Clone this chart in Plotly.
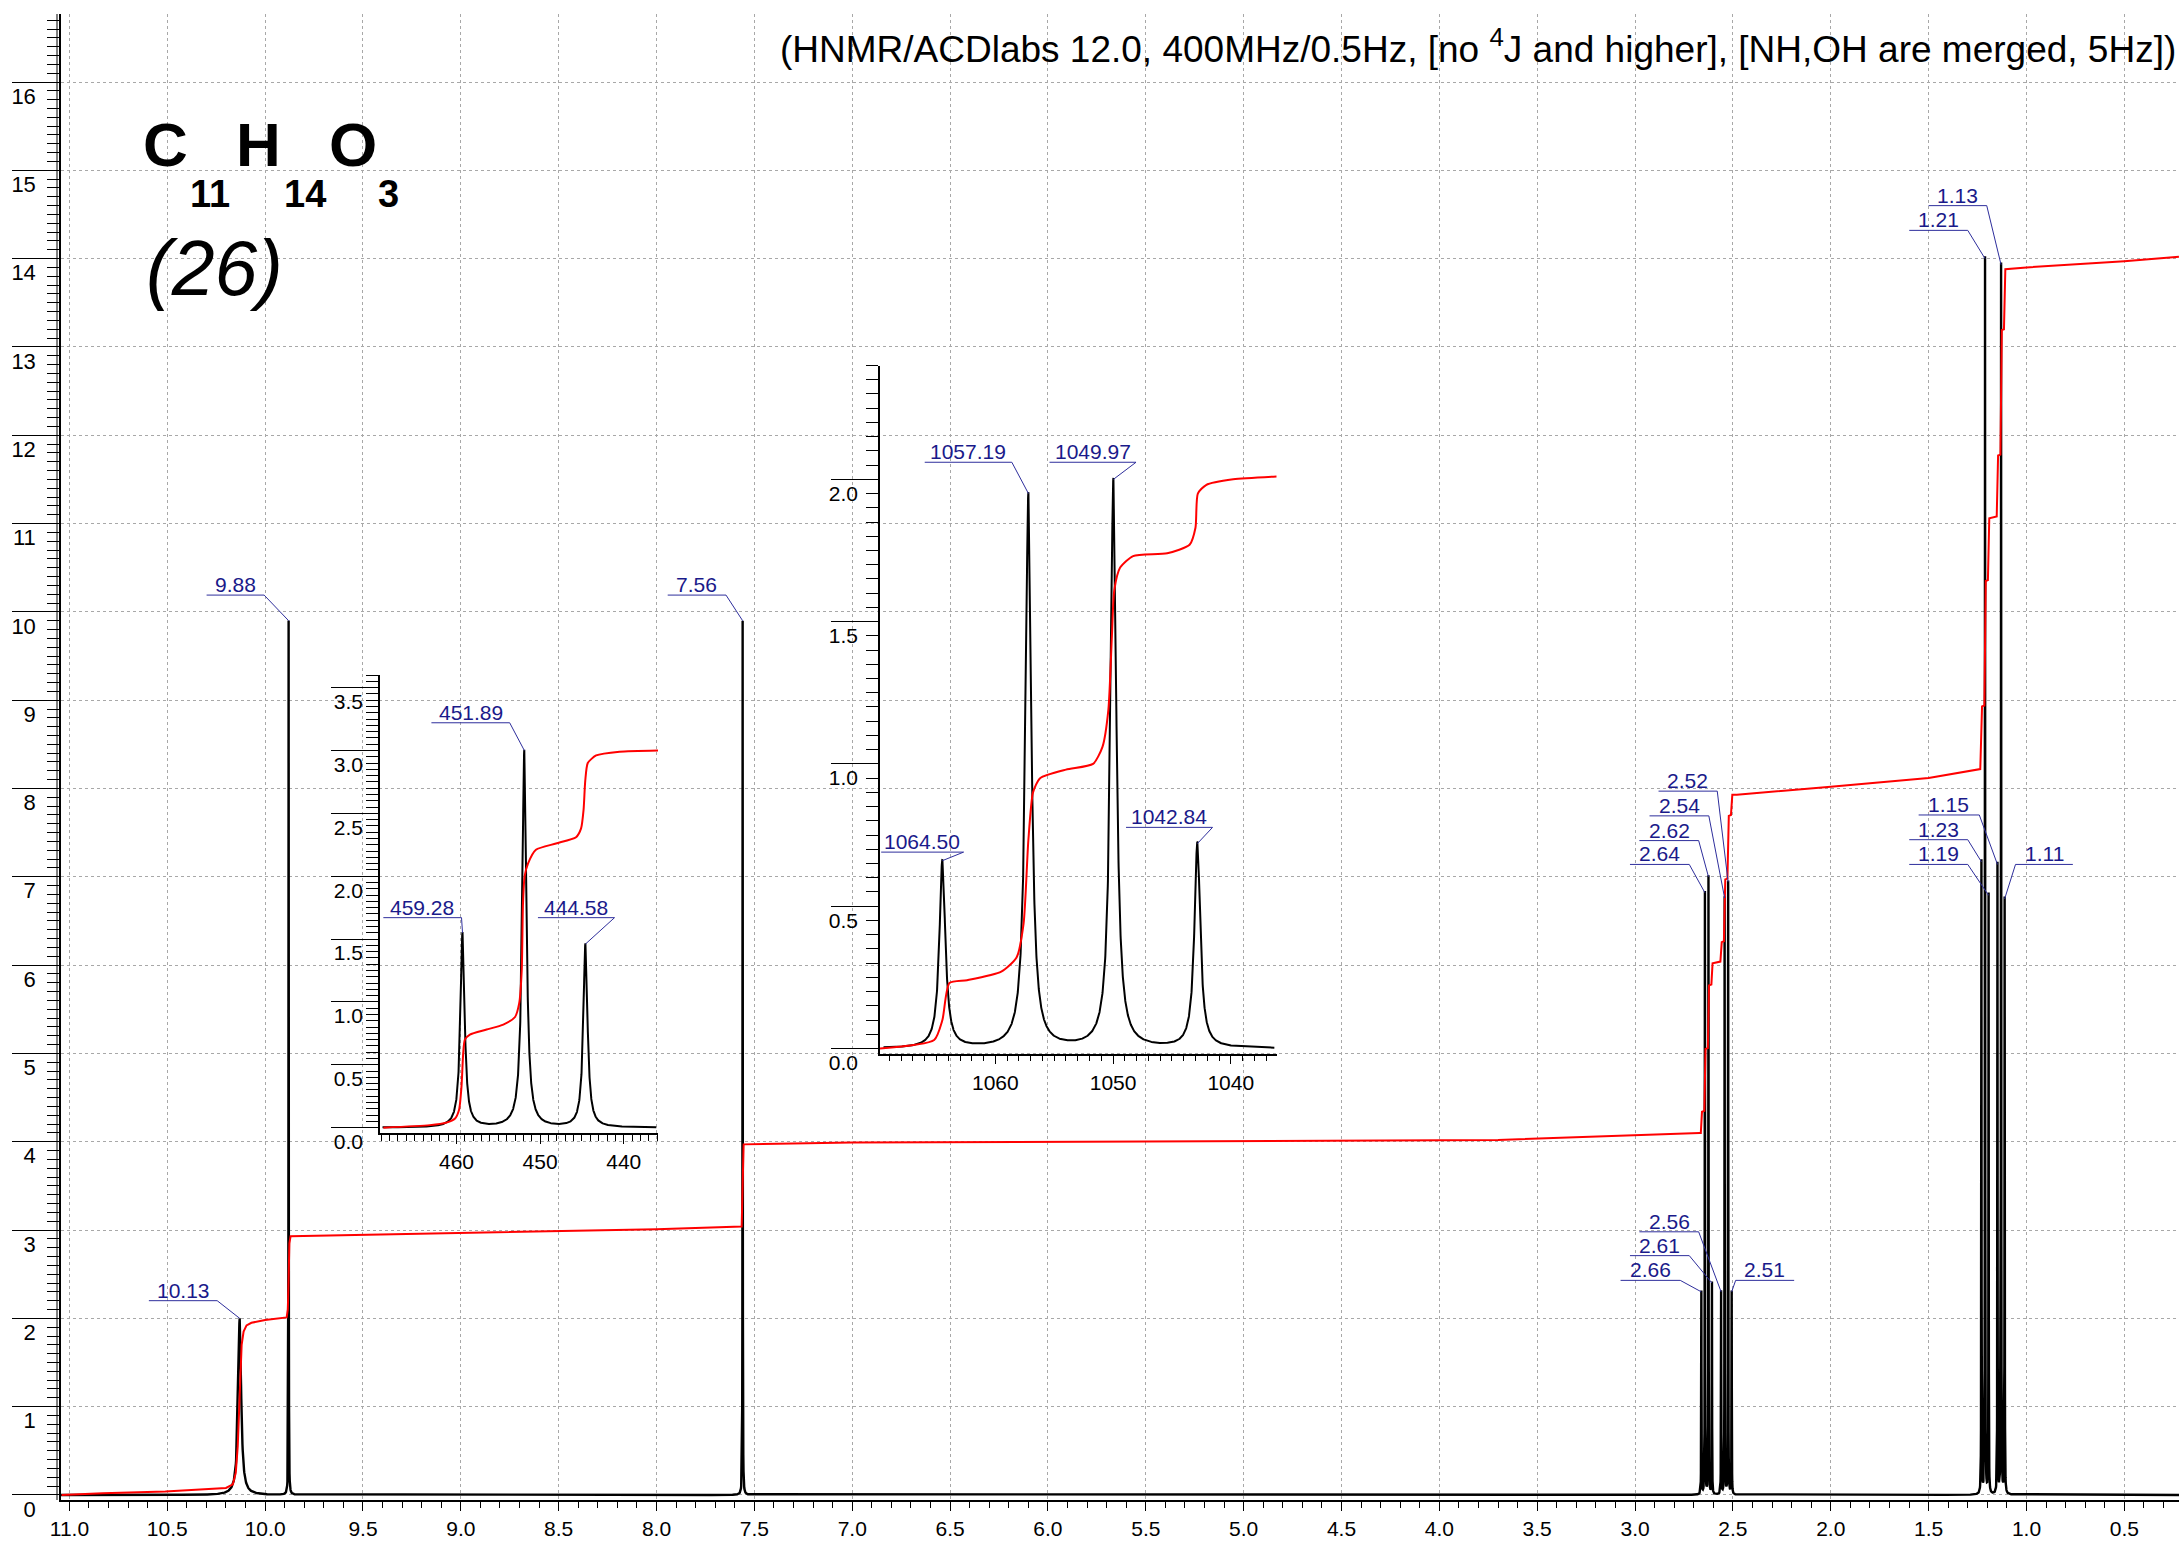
import numpy as np
import plotly.graph_objects as go

# ===================== DATA =====================
SPEC_MHZ = 400.0

# main spectrum: line positions (ppm), displayed heights, half-widths (Hz)
peak_ppm = [10.130, 9.880, 7.560,
            2.6613, 2.6430, 2.6249, 2.6071,
            2.5603, 2.5423, 2.5243, 2.5063,
            1.2302, 1.2117, 1.1935,
            1.1482, 1.1297, 1.1115]
peak_height = [2.00, 9.90, 9.90,
               2.30, 6.82, 7.00, 2.40,
               2.30, 6.76, 6.94, 2.30,
               7.17, 14.00, 6.79,
               7.14, 13.93, 6.75]
peak_hwhm_hz = [3.6, 0.3, 0.3,
                0.3, 0.3, 0.3, 0.3,
                0.3, 0.3, 0.3, 0.3,
                0.3, 0.3, 0.3,
                0.3, 0.3, 0.3]
peak_label = ["10.13", "9.88", "7.56",
              "2.66", "2.64", "2.62", "2.61",
              "2.56", "2.54", "2.52", "2.51",
              "1.23", "1.21", "1.19",
              "1.15", "1.13", "1.11"]

# main integral curve (ppm, value)
integral_ppm = [11.040, 10.830, 10.510, 10.200, 10.165, 10.150, 10.140, 10.133, 10.127, 10.120,
                10.110, 10.095, 10.070, 10.000, 9.890, 9.884, 9.880, 9.876, 9.870, 9.000,
                8.000, 7.565, 7.560, 7.555, 7.000, 5.000, 3.700, 2.670, 2.664, 2.658,
                2.646, 2.640, 2.628, 2.622, 2.610, 2.604, 2.564, 2.557, 2.546, 2.539,
                2.528, 2.521, 2.510, 2.503, 2.480, 2.000, 1.500, 1.236, 1.227, 1.215,
                1.208, 1.197, 1.190, 1.152, 1.145, 1.133, 1.126, 1.115, 1.108, 1.000,
                0.500, 0.221]
integral_val = [0.00, 0.02, 0.04, 0.08, 0.12, 0.25, 0.55, 1.00, 1.45, 1.70,
                1.85, 1.92, 1.95, 1.98, 2.01, 2.10, 2.45, 2.85, 2.93, 2.97,
                3.01, 3.04, 3.50, 3.97, 3.99, 4.01, 4.02, 4.10, 4.10, 4.34,
                4.35, 5.05, 5.06, 5.77, 5.78, 6.02, 6.04, 6.26, 6.27, 6.97,
                6.98, 7.69, 7.70, 7.93, 7.93, 8.02, 8.12, 8.22, 8.93, 8.94,
                10.35, 10.36, 11.06, 11.08, 11.77, 11.78, 13.19, 13.20, 13.88, 13.90,
                13.97, 14.02]

# inset 1 (Hz axis)
inset1_hz = [459.28, 451.89, 444.58]
inset1_height = [1.55, 3.00, 1.46]
inset1_hwhm_hz = [0.3, 0.3, 0.3]
inset1_int_hz = [468.75, 463.2, 461.2, 460.2, 459.7, 459.4, 459.2, 459.0, 458.4, 456.4,
                 454.4, 453.0, 452.5, 452.2, 452.05, 451.85, 451.45, 450.5, 448.1, 445.7,
                 445.1, 444.8, 444.6, 444.3, 443.3, 440.5, 435.9]
inset1_int_val = [0.00, 0.02, 0.04, 0.07, 0.14, 0.33, 0.59, 0.70, 0.74, 0.78,
                  0.82, 0.88, 0.99, 1.25, 1.78, 2.00, 2.10, 2.21, 2.26, 2.31,
                  2.38, 2.53, 2.76, 2.90, 2.96, 2.99, 3.00]

# inset 2 (Hz axis)
inset2_hz = [1064.50, 1057.19, 1049.97, 1042.84]
inset2_height = [0.66, 1.95, 2.00, 0.72]
inset2_hwhm_hz = [0.3, 0.3, 0.3, 0.3]
inset2_int_hz = [1069.8, 1065.2, 1064.5, 1063.9, 1062.4, 1059.5, 1058.2, 1057.6, 1057.2, 1056.8,
                 1056.2, 1054.0, 1051.7, 1050.9, 1050.4, 1050.1, 1049.9, 1049.4, 1048.3, 1045.4,
                 1043.5, 1043.0, 1042.8, 1042.1, 1039.8, 1036.1]
inset2_int_val = [0.00, 0.03, 0.10, 0.23, 0.24, 0.27, 0.32, 0.44, 0.73, 0.90,
                  0.95, 0.98, 1.00, 1.06, 1.19, 1.45, 1.61, 1.69, 1.73, 1.74,
                  1.77, 1.83, 1.95, 1.98, 2.00, 2.01]

title_text = "(HNMR/ACDlabs 12.0, 400MHz/0.5Hz, [no <sup>4</sup>J and higher], [NH,OH are merged, 5Hz])"
compound_no = "(26)"

# ===================== LAYOUT / STYLE =====================
W, H = 2179, 1543
ML, MR, MT, MB = 61, 0, 14, 43
PW, PH = W - ML - MR, H - MT - MB


def paper(px, py):
    return (px - ML) / PW, 1 - (py - MT) / PH


MAIN_X = [11.043, 0.2206]
MAIN_Y = [-0.057, 16.77]
IN1_X, IN1_Y = [469.15, 435.9], [-0.045, 3.6]
IN2_X, IN2_Y = [1069.8, 1036.1], [-0.018, 2.4]
IN1_DOM_X = [paper(380, 0)[0], paper(658, 0)[0]]
IN1_DOM_Y = [paper(0, 1133.3)[1], paper(0, 675)[1]]
IN2_DOM_X = [paper(880, 0)[0], paper(1276.7, 0)[0]]
IN2_DOM_Y = [paper(0, 1053.6)[1], paper(0, 365.5)[1]]

LBL_COLOR = "#1a1a8a"
LINE_COLOR = "#2e2e9c"
FONT = "Liberation Sans, Arial, Helvetica, sans-serif"

# label leader placement: (x_left, x_right, y_line, attach end)
main_label_pos = [
    (10.594, 10.245, 2.20, 'r'),
    (10.299, 10.005, 10.19, 'r'),
    (7.943, 7.645, 10.19, 'r'),
    (3.074, 2.769, 2.43, 'r'),
    (3.026, 2.723, 7.14, 'r'),
    (2.978, 2.675, 7.41, 'r'),
    (3.026, 2.723, 2.71, 'r'),
    (2.978, 2.675, 2.98, 'r'),
    (2.926, 2.623, 7.69, 'r'),
    (2.880, 2.580, 7.97, 'r'),
    (2.486, 2.187, 2.43, 'l'),
    (1.599, 1.300, 7.42, 'r'),
    (1.599, 1.300, 14.32, 'r'),
    (1.599, 1.300, 7.14, 'r'),
    (1.551, 1.241, 7.70, 'r'),
    (1.500, 1.203, 14.60, 'r'),
    (1.056, 0.763, 7.14, 'l'),
]
inset1_label_pos = [(468.75, 459.40, 1.67, 'r'), (463.0, 453.64, 3.22, 'r'), (450.26, 441.1, 1.67, 'r')]
inset2_label_pos = [(1069.7, 1062.7, 0.69, 'r'), (1066.0, 1058.6, 2.06, 'r'),
                    (1055.4, 1048.05, 2.06, 'r'), (1048.9, 1041.55, 0.777, 'r')]


def lorentz(x, centers, heights, hws):
    x = np.asarray(x, float)
    y = np.zeros_like(x)
    for c, h, w in zip(centers, heights, hws):
        y += h * w ** 2 / ((x - c) ** 2 + w ** 2)
    return y


def sample_grid(lo, hi, n, centers, hws):
    pts = [np.linspace(lo, hi, n)]
    rel = np.array([0, 0.25, 0.5, 0.75, 1, 1.5, 2, 3, 4, 6, 8, 12, 20, 35, 60])
    for c, w in zip(centers, hws):
        pts.append(c + rel * w)
        pts.append(c - rel * w)
    g = np.unique(np.concatenate(pts))
    return g[(g >= lo) & (g <= hi)]


fig = go.Figure()

# ---- main spectrum ----
hw_ppm = [w / SPEC_MHZ for w in peak_hwhm_hz]
gx = sample_grid(min(MAIN_X), max(MAIN_X), 9000, peak_ppm, hw_ppm)
fig.add_trace(go.Scatter(x=gx, y=lorentz(gx, peak_ppm, peak_height, hw_ppm), mode="lines",
                         line=dict(color="black", width=2.4), hoverinfo="skip",
                         xaxis="x", yaxis="y"))
fig.add_trace(go.Scatter(x=integral_ppm, y=integral_val, mode="lines",
                         line=dict(color="#ff0000", width=2), hoverinfo="skip",
                         xaxis="x", yaxis="y"))

# ---- insets ----
for xa, ya, hz, hts, hws, ihz, ival, rng in [
        ("x2", "y2", inset1_hz, inset1_height, inset1_hwhm_hz, inset1_int_hz, inset1_int_val, IN1_X),
        ("x3", "y3", inset2_hz, inset2_height, inset2_hwhm_hz, inset2_int_hz, inset2_int_val, IN2_X)]:
    g = sample_grid(min(rng) + 0.2, max(rng) - 0.3, 3000, hz, hws)
    fig.add_trace(go.Scatter(x=g, y=lorentz(g, hz, hts, hws), mode="lines",
                             line=dict(color="black", width=2), hoverinfo="skip",
                             xaxis=xa, yaxis=ya))
    fig.add_trace(go.Scatter(x=ihz, y=ival, mode="lines",
                             line=dict(color="#ff0000", width=2, shape="spline", smoothing=0.6),
                             hoverinfo="skip", xaxis=xa, yaxis=ya))

# ---- peak labels with leader lines ----
annotations = []


def add_labels(texts, px, py, pos, xa, ya):
    lx, ly = [], []
    for t, x0, y0, (xl, xr, yl, side) in zip(texts, px, py, pos):
        xa_end = xr if side == 'r' else xl
        lx += [xl, xr, None, xa_end, x0, None]
        ly += [yl, yl, None, yl, y0, None]
        annotations.append(dict(x=(xl + xr) / 2, y=yl, xref=xa, yref=ya, text=t, showarrow=False,
                                xanchor="center", yanchor="bottom", yshift=-3,
                                font=dict(family=FONT, size=21, color=LBL_COLOR)))
    fig.add_trace(go.Scatter(x=lx, y=ly, mode="lines", line=dict(color=LINE_COLOR, width=1),
                             hoverinfo="skip", xaxis=xa, yaxis=ya))


add_labels(peak_label, peak_ppm, peak_height, main_label_pos, "x", "y")
add_labels(["%.2f" % v for v in inset1_hz], inset1_hz, inset1_height, inset1_label_pos, "x2", "y2")
add_labels(["%.2f" % v for v in inset2_hz], inset2_hz, inset2_height, inset2_label_pos, "x3", "y3")

# ---- title / formula ----
tx, ty = paper(778, 47)
annotations.append(dict(x=tx, y=ty, xref="paper", yref="paper", text=title_text, showarrow=False,
                        xanchor="left", yanchor="middle", font=dict(family=FONT, size=37, color="black")))
for txt, px, py, sz in [("C", 165, 145, 62), ("11", 210, 194, 38), ("H", 258, 145, 62),
                        ("14", 305, 194, 38), ("O", 352.5, 145, 62), ("3", 388, 194, 38)]:
    ax_, ay_ = paper(px, py)
    annotations.append(dict(x=ax_, y=ay_, xref="paper", yref="paper", text="<b>%s</b>" % txt,
                            showarrow=False, xanchor="center", yanchor="middle",
                            font=dict(family=FONT, size=sz, color="black")))
ax_, ay_ = paper(214, 268)
annotations.append(dict(x=ax_, y=ay_, xref="paper", yref="paper", text="<i>%s</i>" % compound_no,
                        showarrow=False, xanchor="center", yanchor="middle",
                        font=dict(family=FONT, size=77, color="black")))


# ---- axes ----
def xaxis_style(domain, rng, dtick, mdtick, fmt, anchor, grid, fsize):
    d = dict(domain=domain, range=rng, anchor=anchor, showline=True, linecolor="black", linewidth=1.5,
             ticks="outside", ticklen=9, tickwidth=1, tickcolor="black", dtick=dtick, tick0=0,
             tickformat=fmt, zeroline=False, tickfont=dict(family=FONT, size=fsize, color="black"),
             minor=dict(dtick=mdtick, tick0=0, ticks="outside", ticklen=6, tickwidth=1,
                        tickcolor="black", showgrid=False),
             showgrid=grid)
    if grid:
        d.update(gridcolor="#a8a8a8", griddash="dot", gridwidth=1)
    return d


def yaxis_style(domain, rng, dtick, mdtick, fmt, anchor, grid, standoff, fsize):
    d = dict(domain=domain, range=rng, anchor=anchor, showline=True, linecolor="black", linewidth=1.5,
             ticks="outside", ticklen=47, tickwidth=1, tickcolor="black", dtick=dtick, tick0=0,
             tickformat=fmt, zeroline=False, tickfont=dict(family=FONT, size=fsize, color="black"),
             ticklabelshift=14, ticklabelstandoff=standoff,
             minor=dict(dtick=mdtick, tick0=0, ticks="outside", ticklen=12, tickwidth=1,
                        tickcolor="black", showgrid=False),
             showgrid=grid)
    if grid:
        d.update(gridcolor="#a8a8a8", griddash="dot", gridwidth=1)
    return d


fig.update_layout(
    width=W, height=H, margin=dict(l=ML, r=MR, t=MT, b=MB),
    paper_bgcolor="white", plot_bgcolor="rgba(0,0,0,0)", showlegend=False,
    font=dict(family=FONT, color="black"),
    xaxis=xaxis_style([0, 1], MAIN_X, 0.5, 0.1, ".1f", "y", True, 21),
    yaxis=yaxis_style([0, 1], MAIN_Y, 1, 0.1, "d", "x", True, -28, 22),
    xaxis2=xaxis_style(IN1_DOM_X, IN1_X, 10, 1, "d", "y2", False, 21),
    yaxis2=yaxis_style(IN1_DOM_Y, IN1_Y, 0.5, 0.05, ".1f", "x2", False, -36, 21),
    xaxis3=xaxis_style(IN2_DOM_X, IN2_X, 10, 1, "d", "y3", False, 21),
    yaxis3=yaxis_style(IN2_DOM_Y, IN2_Y, 0.5, 0.05, ".1f", "x3", False, -31, 21),
    annotations=annotations,
    shapes=[dict(type="line", xref="paper", yref="paper", x0=-4 / PW, x1=-4 / PW, y0=0, y1=1,
                 line=dict(color="black", width=1))],
)

fig.write_html("out.html", config={"displayModeBar": False},
               post_script="document.body.style.margin='0';")
